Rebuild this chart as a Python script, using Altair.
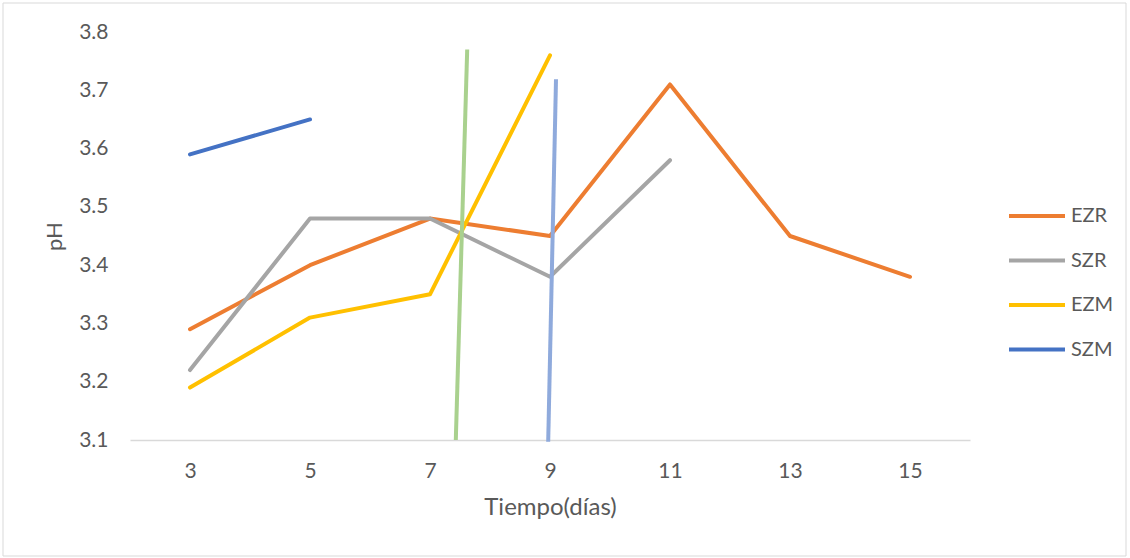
import altair as alt
import pandas as pd

# pH readings by sampling day
days = [3, 5, 7, 9, 11, 13, 15]
ezr = [3.29, 3.40, 3.48, 3.45, 3.71, 3.45, 3.38]
szr = [3.22, 3.48, 3.48, 3.38, 3.58]
ezm = [3.19, 3.31, 3.35, 3.76]
szm = [3.59, 3.65]

series_names = ["EZR", "SZR", "EZM", "SZM"]
series_values = [ezr, szr, ezm, szm]
series_colors = ["#ED7D31", "#A5A5A5", "#FFC000", "#4472C4"]

# two extra near-vertical traces
green_x = [7.43, 7.62]
green_y = [3.10, 3.77]
lightblue_x = [8.97, 9.10]
lightblue_y = [3.097, 3.719]

rows = []
for name, vals in zip(series_names, series_values):
    for d, v in zip(days, vals):
        rows.append({"serie": name, "dia": d, "ph": v})
df = pd.DataFrame(rows)

FONT = "Lato"
TXT = "#595959"

x_scale = alt.Scale(domain=[2, 16], nice=False, zero=False)
y_scale = alt.Scale(domain=[3.1, 3.8], nice=False, zero=False)

x_axis = alt.Axis(
    title="Tiempo(días)", values=days, format="d", grid=False, ticks=False,
    domainColor="#D9D9D9", domainWidth=1.5, labelPadding=20, titlePadding=14,
    labelFontSize=21, titleFontSize=24, labelColor=TXT, titleColor=TXT,
    labelFont=FONT, titleFont=FONT, titleFontWeight="normal",
)
y_axis = alt.Axis(
    title="pH", values=[3.1, 3.2, 3.3, 3.4, 3.5, 3.6, 3.7, 3.8], format=".1f",
    grid=False, ticks=False, domain=False, labelPadding=22, titlePadding=12,
    labelFontSize=21, titleFontSize=22, labelColor=TXT, titleColor=TXT,
    labelFont=FONT, titleFont=FONT, titleFontWeight="normal",
)

lines = alt.Chart(df).mark_line(strokeWidth=4, strokeCap="round", strokeJoin="round").encode(
    x=alt.X("dia:Q", scale=x_scale, axis=x_axis),
    y=alt.Y("ph:Q", scale=y_scale, axis=y_axis),
    color=alt.Color(
        "serie:N",
        scale=alt.Scale(domain=series_names, range=series_colors),
        sort=series_names,
        legend=alt.Legend(
            title=None, orient="none", legendX=877, legendY=154,
            symbolType="stroke", symbolSize=3136, symbolStrokeWidth=4,
            labelFontSize=20, labelFont=FONT, labelColor=TXT, labelOffset=4,
            rowPadding=4.5, padding=0,
        ),
    ),
)

green = alt.Chart(pd.DataFrame({"dia": green_x, "ph": green_y})).mark_line(
    strokeWidth=4, color="#A9D18E"
).encode(x=alt.X("dia:Q", scale=x_scale), y=alt.Y("ph:Q", scale=y_scale))

lightblue = alt.Chart(pd.DataFrame({"dia": lightblue_x, "ph": lightblue_y})).mark_line(
    strokeWidth=4, color="#8FAADC"
).encode(x=alt.X("dia:Q", scale=x_scale), y=alt.Y("ph:Q", scale=y_scale))

frame = alt.Chart(pd.DataFrame({"frame": [0]})).mark_rect(
    fillOpacity=0, stroke="#D9D9D9", strokeWidth=1
).encode(
    x=alt.value(-127), x2=alt.value(996), y=alt.value(-29), y2=alt.value(524)
)

chart = alt.layer(frame, lines, green, lightblue).properties(
    width=840, height=408,
    autosize=alt.AutoSizeParams(type="none"),
    padding={"left": 130, "top": 32, "right": 160, "bottom": 118},
    background="white",
).configure_view(stroke=None)

chart.save("out.html", embed_options={"renderer": "svg", "actions": False})
